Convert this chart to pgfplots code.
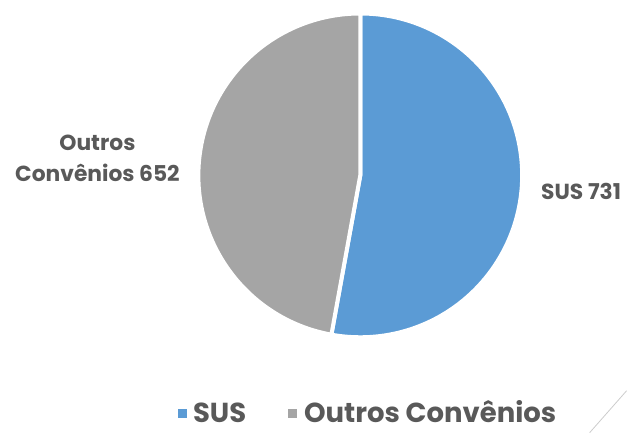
\documentclass[border=0pt]{standalone}
\usepackage{fontspec}
\setmainfont{Poppins}
\usepackage{pgfplots}
\pgfplotsset{compat=1.18}
\definecolor{susblue}{HTML}{5B9BD5}
\definecolor{outgray}{HTML}{A5A5A5}
\definecolor{txt}{HTML}{595959}
\begin{document}
\begin{tikzpicture}
  % values of the two slices
  \pgfmathsetmacro{\sus}{731}
  \pgfmathsetmacro{\outros}{652}
  \pgfmathsetmacro{\angsus}{360*(\sus/(\sus+\outros))}
  \begin{axis}[x=1pt, y=1pt, xmin=0, xmax=627, ymin=0, ymax=433,
      hide axis, clip=false, scale only axis]
    \path (axis cs:0,0) rectangle (axis cs:627,433);
    \fill[susblue, draw=white, line width=4pt, line join=miter]
      (axis cs:360.5,257.5) -- ++(90:162pt)
      arc[start angle=90, end angle={90-\angsus}, radius=162pt] -- cycle;
    \fill[outgray, draw=white, line width=4pt, line join=miter]
      (axis cs:360.5,257.5) -- ++({90-\angsus}:162pt)
      arc[start angle={90-\angsus}, end angle=-270, radius=162pt] -- cycle;
    % data labels
    \node[txt, font=\bfseries\fontsize{21.8}{31}\selectfont, inner sep=0pt]
      at (axis cs:581.5,241) {SUS 731};
    \node[txt, font=\bfseries\fontsize{21.8}{31}\selectfont, inner sep=0pt, align=center]
      at (axis cs:97.5,275) {Outros\\Convênios 652};
    % legend
    \fill[susblue] (axis cs:178,15) rectangle (axis cs:187,24);
    \node[txt, font=\bfseries\fontsize{27.5}{30}\selectfont, inner sep=0pt, anchor=base west]
      at (axis cs:193,10) {SUS};
    \fill[outgray] (axis cs:288,15) rectangle (axis cs:297,24);
    \node[txt, font=\bfseries\fontsize{27.5}{30}\selectfont, inner sep=0pt, anchor=base west]
      at (axis cs:304,10) {Outros Convênios};
    % slide decoration
    \draw[black!20, line width=0.8pt] (axis cs:590,0) -- (axis cs:627,42);
  \end{axis}
\end{tikzpicture}
\end{document}
